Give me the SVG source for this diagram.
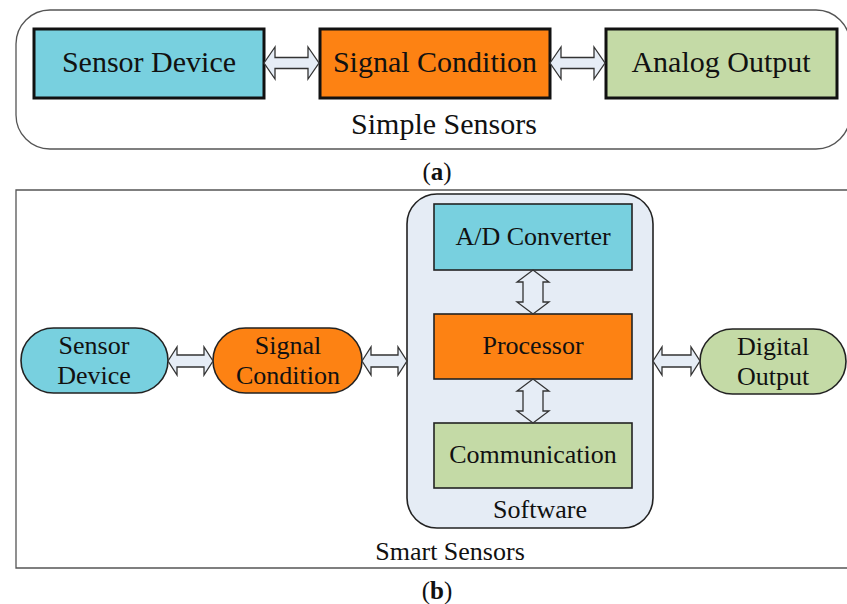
<svg xmlns="http://www.w3.org/2000/svg" width="847" height="604" viewBox="0 0 847 604">
<style>
text{font-family:"Liberation Serif","Times New Roman",serif;fill:#111;text-anchor:middle}
.a{font-size:30px}
.b{font-size:26px}
.cap{font-size:25px}
.box{stroke:#111;stroke-width:3}
.box2{stroke:#222;stroke-width:1.6}
.cy{fill:#78d0df}
.or{fill:#fd8213}
.gr{fill:#c4daa6}
.arr{fill:#e6edf6;stroke:#333;stroke-width:1.3;stroke-linejoin:miter}
.frame{fill:none;stroke:#555;stroke-width:1.3}
</style>
<rect width="847" height="604" fill="#fff"/>
<g id="simple-sensors">
<rect class="frame" x="16" y="10" width="834" height="139" rx="34" ry="34"/>
<text class="a" x="444" y="134">Simple Sensors</text>
</g>
<g id="a-sensor-device">
<rect class="box cy" x="34" y="29" width="230" height="69"/>
<text class="a" x="149" y="72">Sensor Device</text>
</g>
<g id="a-signal-condition">
<rect class="box or" x="320" y="29" width="230" height="69"/>
<text class="a" x="435" y="72">Signal Condition</text>
</g>
<g id="a-analog-output">
<rect class="box gr" x="606" y="29" width="231" height="69"/>
<text class="a" x="721" y="72">Analog Output</text>
</g>
<text class="cap" x="437" y="180">(<tspan font-weight="bold">a</tspan>)</text>
<g id="smart-sensors">
<path class="frame" d="M850 190 H16 V568 H850"/>
<text class="b" x="450" y="560">Smart Sensors</text>
</g>
<g id="software">
<rect x="407" y="194" width="246" height="334" rx="30" ry="30" fill="#e5ecf5" stroke="#222" stroke-width="1.6"/>
<text class="b" x="540" y="518">Software</text>
</g>
<g id="ad-converter">
<rect class="box2 cy" x="434" y="204" width="198" height="66"/>
<text class="b" x="533" y="245">A/D Converter</text>
</g>
<g id="processor">
<rect class="box2 or" x="434" y="314" width="198" height="65"/>
<text class="b" x="533" y="354">Processor</text>
</g>
<g id="communication">
<rect class="box2 gr" x="434" y="423" width="198" height="65"/>
<text class="b" x="533" y="463">Communication</text>
</g>
<g id="b-sensor-device">
<rect class="box2 cy" x="21" y="328" width="147" height="65" rx="32.5" ry="32.5"/>
<text class="b" x="94" y="354">Sensor</text>
<text class="b" x="94" y="384">Device</text>
</g>
<g id="b-signal-condition">
<rect class="box2 or" x="213" y="328" width="149" height="65" rx="32.5" ry="32.5"/>
<text class="b" x="288" y="354">Signal</text>
<text class="b" x="288" y="384">Condition</text>
</g>
<g id="digital-output">
<rect class="box2 gr" x="700" y="329" width="146" height="65" rx="32.5" ry="32.5"/>
<text class="b" x="773" y="355">Digital</text>
<text class="b" x="773" y="385">Output</text>
</g>
<g id="connectors">
<path class="arr" d="M264 63 L275 47 L275 57.5 L308 57.5 L308 47 L319 63 L308 79 L308 68.5 L275 68.5 L275 79 Z"/>
<path class="arr" d="M550 63 L561 47 L561 57.5 L594 57.5 L594 47 L605 63 L594 79 L594 68.5 L561 68.5 L561 79 Z"/>
<path class="arr" d="M168 361 L177 347 L177 355 L204 355 L204 347 L213 361 L204 375 L204 367 L177 367 L177 375 Z"/>
<path class="arr" d="M362 361 L371 347 L371 355 L398 355 L398 347 L407 361 L398 375 L398 367 L371 367 L371 375 Z"/>
<path class="arr" d="M653 361 L662 347 L662 355 L691 355 L691 347 L700 361 L691 375 L691 367 L662 367 L662 375 Z"/>
<path class="arr" d="M533 270 L549 282 L543 282 L543 302 L549 302 L533 314 L517 302 L523 302 L523 282 L517 282 Z"/>
<path class="arr" d="M533 379 L549 391 L543 391 L543 411 L549 411 L533 423 L517 411 L523 411 L523 391 L517 391 Z"/>
</g>
<text class="cap" x="437" y="599">(<tspan font-weight="bold">b</tspan>)</text>
</svg>
